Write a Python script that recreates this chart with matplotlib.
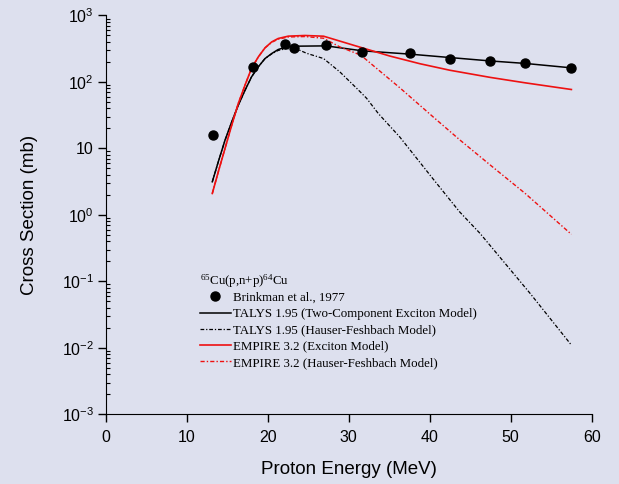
import matplotlib.pyplot as plt
from matplotlib.lines import Line2D
from matplotlib.ticker import FixedLocator, FixedFormatter, LogLocator, NullFormatter

# measured data (Brinkman et al., 1977)
exp_e = [13.2, 18.2, 22.1, 23.2, 27.2, 31.7, 37.6, 42.5, 47.5, 51.8, 57.5]
exp_xs = [15.7, 169, 370, 328, 357, 281, 274, 225, 210, 192, 163]

# TALYS 1.95 two-component exciton model
talys_tce_e = [13.16, 13.9, 14.73, 15.56, 16.37, 17.2, 18.0, 18.84, 19.67, 20.5, 21.3, 22.35, 23.2,
               27.2, 31.7, 37.6, 42.5, 47.5, 51.8, 57.5]
talys_tce_xs = [3.15, 6.3, 13.3, 25.1, 44.8, 75, 119, 169, 225, 268, 308, 337, 345,
                349, 294, 262, 233, 207, 190, 163]

# TALYS 1.95 Hauser-Feshbach
talys_hf_e = [13.16, 13.9, 14.73, 15.56, 16.37, 17.2, 18.0, 18.84, 19.67, 20.5, 21.3, 22.35, 24.0,
              24.8, 26.9, 28.9, 31.0, 32.2, 33.65, 36.3, 40.4, 43.7, 46.2, 52.4, 57.5]
talys_hf_xs = [3.15, 6.3, 13.3, 25.1, 44.8, 75, 119, 169, 225, 265, 298, 318, 298,
               270, 225, 142, 80, 57, 33.6, 14.9, 3.5, 1.11, 0.53, 0.066, 0.011]

# EMPIRE 3.2 exciton model
empire_ex_e = [13.16, 13.9, 14.73, 15.56, 16.37, 17.2, 18.0, 18.84, 19.67, 20.5, 21.3, 22.55, 24.6,
               26.9, 28.1, 31.0, 35.1, 38.8, 42.5, 47.5, 51.8, 57.5]
empire_ex_xs = [2.1, 4.45, 10, 22.4, 47.5, 89.5, 160, 238, 326, 401, 451, 489, 500,
                488, 441, 345, 245, 188, 150, 117, 97, 77]

# EMPIRE 3.2 Hauser-Feshbach
empire_hf_e = [13.16, 13.9, 14.73, 15.56, 16.37, 17.2, 18.0, 18.84, 19.67, 20.5, 21.3, 22.55, 24.6,
               26.9, 28.9, 31.5, 33.5, 36.3, 40.4, 43.7, 47.5, 51.8, 57.5]
empire_hf_xs = [2.1, 4.45, 10, 22.4, 47.5, 89.5, 160, 238, 326, 395, 440, 475, 482,
                455, 337, 253, 158, 82, 30, 13.5, 5.6, 2.1, 0.51]

bg = '#dde0ee'
red = '#ee1111'
plt.rcParams['font.family'] = ['Liberation Sans', 'DejaVu Sans']

fig = plt.figure(figsize=(6.19, 4.84), dpi=100, facecolor=bg)
ax = fig.add_axes([0.1708, 0.144, 0.785, 0.824], facecolor=bg)

dash = (0, (3, 1.5, 1, 1.5))
ax.plot(exp_e, exp_xs, 'o', color='black', ms=6.5, zorder=5)
ax.plot(talys_tce_e, talys_tce_xs, color='black', lw=1.1)
ax.plot(talys_hf_e, talys_hf_xs, color='black', lw=0.9, ls=dash)
ax.plot(empire_ex_e, empire_ex_xs, color=red, lw=1.2)
ax.plot(empire_hf_e, empire_hf_xs, color=red, lw=1.0, ls=dash)

ax.set_yscale('log')
ax.set_xlim(0, 60)
ax.set_ylim(1e-3, 1e3)
ax.spines['top'].set_visible(False)
ax.spines['right'].set_visible(False)

ax.set_xticks([0, 10, 20, 30, 40, 50, 60])
ax.yaxis.set_major_locator(FixedLocator([1e-3, 1e-2, 1e-1, 1, 10, 100, 1000]))
ax.yaxis.set_major_formatter(FixedFormatter([
    r'$\mathregular{10^{-3}}$', r'$\mathregular{10^{-2}}$', r'$\mathregular{10^{-1}}$',
    r'$\mathregular{10^{0}}$', '10', r'$\mathregular{10^{2}}$', r'$\mathregular{10^{3}}$']))
ax.yaxis.set_minor_locator(LogLocator(base=10, subs=range(2, 10), numticks=20))
ax.yaxis.set_minor_formatter(NullFormatter())
ax.tick_params(axis='both', which='major', direction='out', length=5.5, width=1, labelsize=11.5)
ax.tick_params(axis='x', which='major', pad=6)
ax.tick_params(axis='y', which='major', pad=3)
ax.tick_params(axis='y', which='minor', direction='in', length=3, width=0.8)

ax.set_xlabel('Proton Energy (MeV)', fontsize=13.5, labelpad=11)
ax.set_ylabel('Cross Section (mb)', fontsize=13.5, labelpad=17)

handles = [
    Line2D([], [], ls='none', marker='o', color='black', ms=6.5),
    Line2D([], [], color='black', lw=1.1),
    Line2D([], [], color='black', lw=0.9, ls=dash),
    Line2D([], [], color=red, lw=1.2),
    Line2D([], [], color=red, lw=1.0, ls=dash),
]
labels = ['Brinkman et al., 1977',
          'TALYS 1.95 (Two-Component Exciton Model)',
          'TALYS 1.95 (Hauser-Feshbach Model)',
          'EMPIRE 3.2 (Exciton Model)',
          'EMPIRE 3.2 (Hauser-Feshbach Model)']
leg = ax.legend(handles, labels, loc='upper left', bbox_to_anchor=(0.18, 0.373),
                frameon=False, borderpad=0, handlelength=2.45, handletextpad=0.15,
                labelspacing=0.33, alignment='left',
                title=r'$\mathregular{^{65}}$Cu(p,n+p)$\mathregular{^{64}}$Cu',
                prop={'family': 'Liberation Serif', 'size': 9.3})
leg.get_title().set_fontfamily('Liberation Serif')
leg.get_title().set_fontsize(9.3)
# pull the title a bit closer to the first entry
leg._legend_box.sep = 1.5

fig.savefig('out.png', dpi=100, facecolor=bg)
